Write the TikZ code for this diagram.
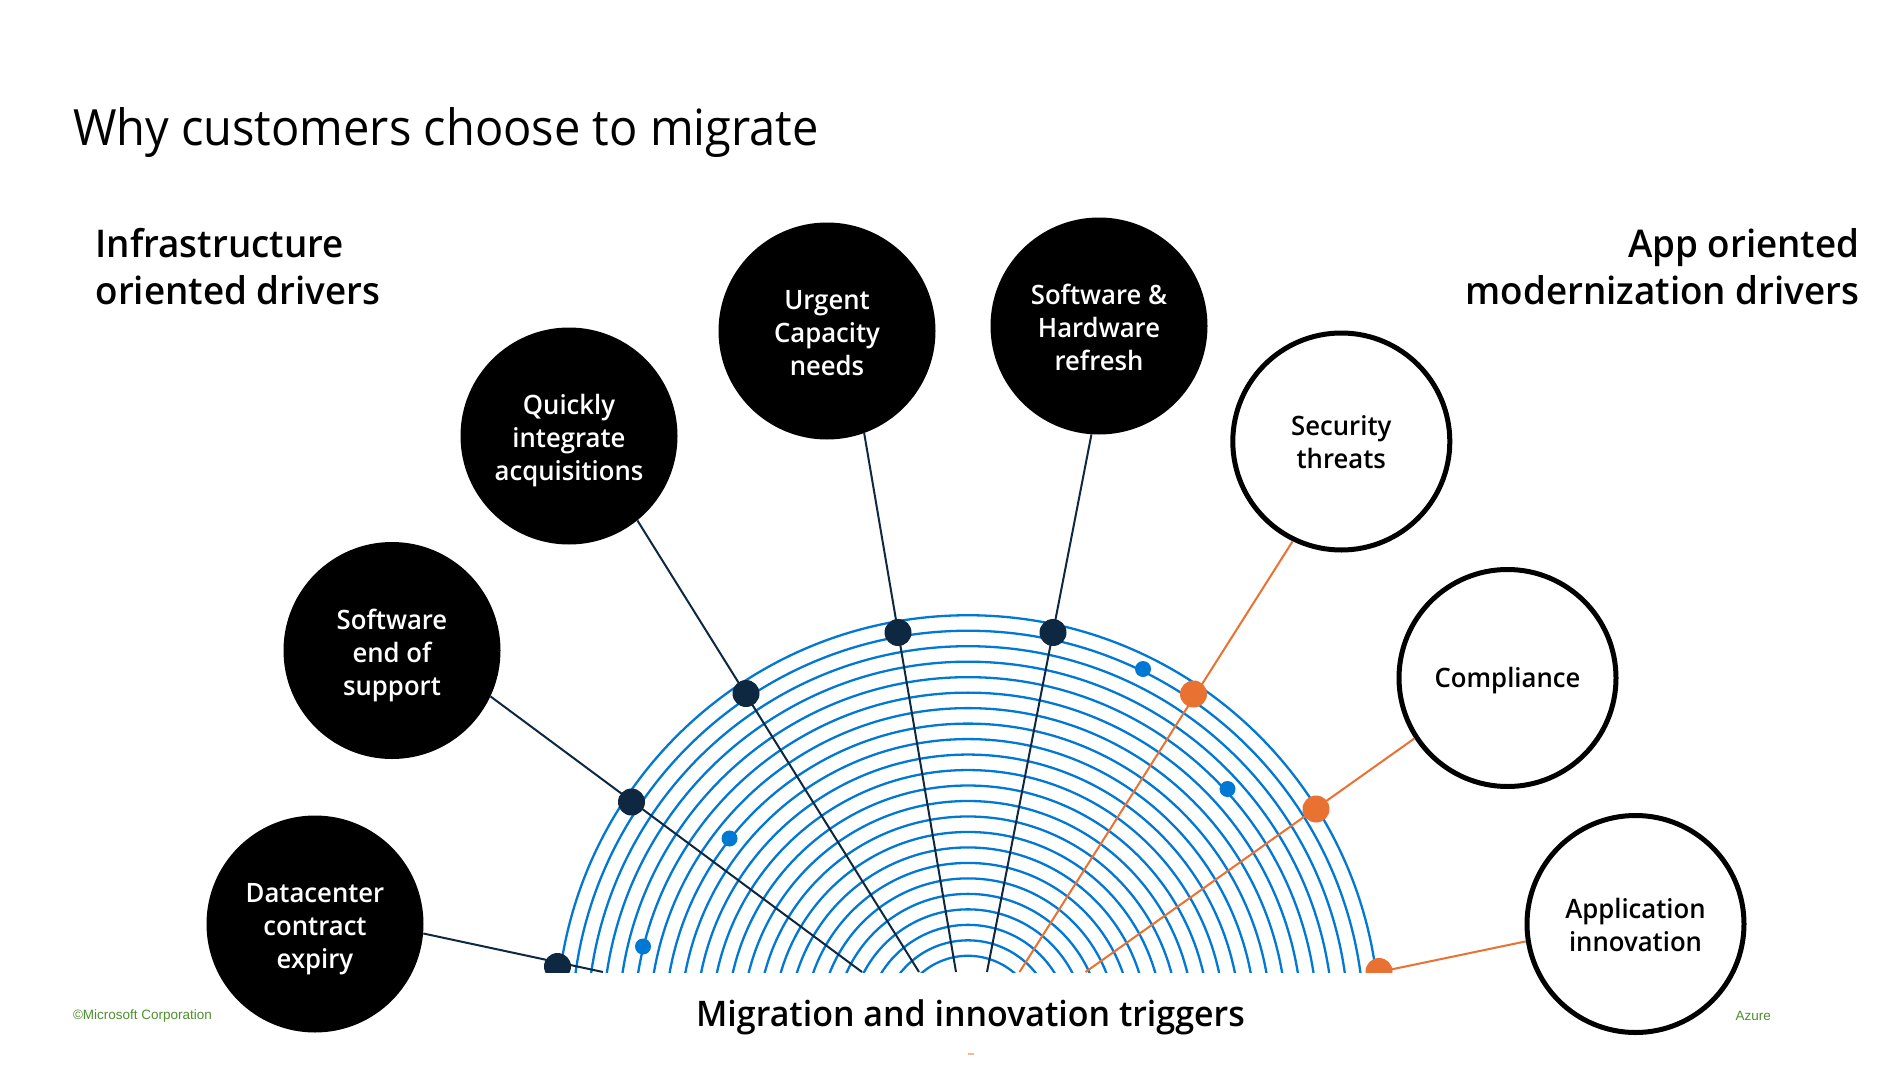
\documentclass[tikz,border=0pt]{standalone}
\usepackage{fontspec}
\setmainfont{Open Sans}
\newfontfamily\titlefont[FakeStretch=0.94]{Open Sans}
\newfontfamily\semifont[FakeStretch=0.963]{Open Sans Semibold}
\newfontfamily\smallfont{Liberation Sans}
\usepackage{tikz}
\definecolor{arcblue}{HTML}{0078D4}
\definecolor{navy}{HTML}{0E2841}
\definecolor{trigger}{HTML}{E97132}
\definecolor{footgreen}{HTML}{4E8F2F}
\tikzset{
  driverbase/.style={circle,inner sep=0pt,align=center,
    font=\semifont\fontsize{26.7}{33}\selectfont},
  driver/.style={driverbase,minimum size=217pt,fill=black,text=white},
  appdriver/.style={driverbase,minimum size=217pt,fill=white,text=black,draw=black,line width=5pt},
  threerows/.style={execute at begin node={\rule[-6.5pt]{0pt}{102pt}}},
  tworows/.style={execute at begin node={\rule[-6.5pt]{0pt}{67.2pt}}},
  onerow/.style={execute at begin node={\rule[-6.5pt]{0pt}{32.5pt}}},
  head/.style={align=left,font=\semifont\fontsize{38.2}{47}\selectfont},
  foot/.style={text=footgreen,font=\smallfont\fontsize{13.5}{15}\selectfont},
  bigdot/.style={circle,inner sep=0pt,minimum size=27pt},
  smalldot/.style={circle,inner sep=0pt,minimum size=16pt,fill=arcblue}
}

\begin{document}
\begin{tikzpicture}[x=1pt,y=-1pt]
\useasboundingbox (0,0) rectangle (1903,1070);
\fill[white] (0,0) rectangle (1903,1070);

\node[anchor=base west,font=\titlefont\fontsize{50}{60}\selectfont] (title) at (69.5,145.5) {Why customers choose to migrate};
\node[head,anchor=base west] (infra) at (92,304) {Infrastructure\\oriented drivers};
\node[head,anchor=base east,align=right] (app) at (1863,304) {App oriented\\modernization drivers};

\node[driver,threerows] (datacenter) at (315,924) {Datacenter\\contract\\expiry};
\node[driver,threerows] (endofsupport) at (392,650.5) {Software\\end of\\support};
\node[driver,threerows] (acquisitions) at (569,436) {Quickly\\integrate\\acquisitions};
\node[driver,threerows] (capacity) at (827,331) {Urgent\\Capacity\\needs};
\node[driver,threerows] (refresh) at (1099,326) {Software \&\\Hardware\\refresh};
\node[appdriver,tworows] (security) at (1341.3,441.5) {Security\\threats};
\node[appdriver,onerow] (compliance) at (1507.5,678) {Compliance};
\node[appdriver,tworows] (innovation) at (1635.5,924) {Application\\innovation};

\coordinate (eDatacenter) at (603,972);
\coordinate (eSupport) at (862,972);
\coordinate (eAcquisitions) at (919,972);
\coordinate (eCapacity) at (956,972);
\coordinate (eRefresh) at (987,972);
\coordinate (eSecurity) at (1019.5,972);
\coordinate (eCompliance) at (1085.5,972);
\coordinate (eInnovation) at (1379,972);

\begin{scope}
\clip (0,0) rectangle (1903,972);
\foreach \r in {0,...,22}
  \draw[arcblue,line width=2.3pt] (968,1026.8) circle [radius=71+15.48*\r];

\draw[navy,line width=2pt] (datacenter.-5.3) -- (eDatacenter);
\draw[navy,line width=2pt] (endofsupport.-25.8) -- (eSupport);
\draw[navy,line width=2pt] (acquisitions.-51.5) -- (eAcquisitions);
\draw[navy,line width=2pt] (capacity.-70.6) -- (eCapacity);
\draw[navy,line width=2pt] (refresh.-94.2) -- (eRefresh);
\draw[trigger,line width=2pt] (security.-116.6) -- (eSecurity);
\draw[trigger,line width=2pt] (compliance.-147.3) -- (eCompliance);
\draw[trigger,line width=2pt] (innovation.-171.7) -- (eInnovation);

\node[bigdot,fill=navy] (dDatacenter) at (557.5,966.5) {};
\node[bigdot,fill=navy] (dSupport) at (631.5,802) {};
\node[bigdot,fill=navy] (dAcquisitions) at (746,693.5) {};
\node[bigdot,fill=navy] (dCapacity) at (898,632.5) {};
\node[bigdot,fill=navy] (dRefresh) at (1053,632.5) {};
\node[bigdot,fill=trigger] (dSecurity) at (1193.5,694) {};
\node[bigdot,fill=trigger] (dCompliance) at (1316,809) {};
\node[bigdot,fill=trigger] (dInnovation) at (1379,971.5) {};

\node[smalldot] (sa) at (643,946.5) {};
\node[smalldot] (sb) at (729.5,838.5) {};
\node[smalldot] (sc) at (1143,669) {};
\node[smalldot] (sd) at (1227.5,789) {};
\end{scope}

\node[font=\semifont\fontsize{35.25}{40}\selectfont] (triggers) at (970.5,1017.5) {Migration and innovation triggers};
\node[foot,anchor=west] (corp) at (69.5,1015.5) {©Microsoft Corporation};
\node[foot,anchor=west] (azure) at (1732,1015.5) {Azure};
\fill[trigger!50] (968,1053) rectangle (974,1055);
\end{tikzpicture}
\end{document}
